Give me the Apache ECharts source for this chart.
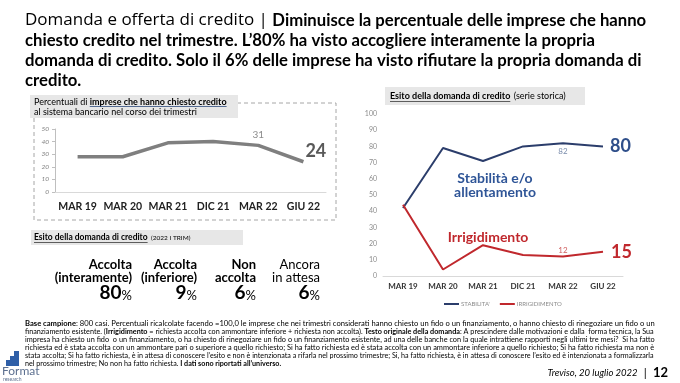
<!DOCTYPE html>
<html><head><meta charset="utf-8">
<script src="https://cdn.jsdelivr.net/npm/echarts@6/dist/echarts.min.js"></script>
<style>html,body{margin:0;padding:0;background:#fff}#c{width:680px;height:383px}</style>
</head><body><div id="c"></div>
<script>
// ---------- DATA ----------
const categories = ['MAR 19', 'MAR 20', 'MAR 21', 'DIC 21', 'MAR 22', 'GIU 22'];
const creditRequested = [28, 28, 39, 40, 37, 24];          // left chart (%)
const creditRequestedLabels = ['', '', '', '', '31', '24'];
const stabilita = [42, 79, 71, 80, 82, 80];               // right chart blue
const stabilitaLabels = ['', '', '', '', '82', '80'];
const irrigidimento = [44, 4, 19, 13, 12, 15];            // right chart red
const irrigidimentoLabels = ['', '', '', '', '12', '15'];
const seriesNames = ["STABILITA'", 'IRRIGIDIMENTO'];
const outcomeNames = [['Accolta', '(interamente)'], ['Accolta', '(inferiore)'], ['Non', 'accolta'], ['Ancora', 'in attesa']];
const outcomeValues = [80, 9, 6, 6];

// ---------- STYLE ----------
const FONT = 'Lato, "Open Sans", sans-serif';
const NAVY = '#2b3d6b';
const BLUE_TXT = '#2f4f8a';
const RED = '#c0282d';
const GREY_LINE = '#7f7f7f';

const cv = document.createElement('canvas').getContext('2d');
function tw(text, font) { cv.font = font; return cv.measureText(text).width; }

const chart = echarts.init(document.getElementById('c'), null, { renderer: 'canvas' });

function labelled(vals, labels, cfg) {
  return vals.map((v, i) => {
    const c = cfg[labels[i]] || null;
    return c ? { value: v, label: Object.assign({ show: true, formatter: labels[i] }, c) } : { value: v };
  });
}

const leftData = labelled(creditRequested, creditRequestedLabels, {
  '31': { position: 'top', distance: 6, fontSize: 10, color: '#8c8c8c', fontFamily: FONT },
  '24': { position: [2, -20], fontSize: 18, fontWeight: 'bold', color: '#595959', fontFamily: FONT }
});
const blueData = labelled(stabilita, stabilitaLabels, {
  '82': { position: 'bottom', distance: 4, fontSize: 8, color: '#7a8cab', fontFamily: FONT },
  '80': { position: 'right', distance: 7, fontSize: 18, fontWeight: 'bold', color: BLUE_TXT, fontFamily: FONT }
});
const redData = labelled(irrigidimento, irrigidimentoLabels, {
  '12': { position: 'top', distance: 2, fontSize: 8, color: '#d06060', fontFamily: FONT },
  '15': { position: 'right', distance: 8, fontSize: 18, fontWeight: 'bold', color: RED, fontFamily: FONT }
});

// ---------- GRAPHICS (text blocks) ----------
const g = [];
// Title
g.push({
  type: 'text', left: 25, top: 12, z: 10,
  style: {
    text: '{a|Domanda e offerta di credito | }{b|Diminuisce la percentuale delle imprese che hanno}\n{b|chiesto credito nel trimestre. L\u201980% ha visto accogliere interamente la propria}\n{b|domanda di credito. Solo il 6% delle imprese ha visto rifiutare la propria domanda di}\n{b|credito.}',
    rich: {
      a: { fontFamily: '"Open Sans", Lato, sans-serif', fontSize: 17, color: '#2f4b7c', lineHeight: 20 },
      b: { fontFamily: FONT, fontSize: 16.7, fontWeight: 'bold', color: '#1a1a1a', lineHeight: 20 }
    }
  }
});
// Left dashed frame
g.push({ type: 'rect', shape: { x: 34, y: 103, width: 302, height: 117 }, style: { fill: 'none', stroke: '#a6a6a6', lineWidth: 1, lineDash: [4, 3] }, z: 1 });
g.push({ type: 'rect', shape: { x: 30, y: 95, width: 208, height: 23 }, style: { fill: '#e7e7e7' }, z: 2 });
const f9 = '9px ' + FONT, f9b = 'bold 9px ' + FONT;
g.push({
  type: 'text', x: 34, y: 97, z: 3,
  style: {
    text: '{n|Percentuali di }{u|imprese che hanno chiesto credito}\n{n|al sistema bancario nel corso dei trimestri}',
    rich: {
      n: { fontFamily: FONT, fontSize: 9, color: '#5b6b85', lineHeight: 10 },
      u: { fontFamily: FONT, fontSize: 9, fontWeight: 'bold', color: '#2f4b7c', lineHeight: 10 }
    }
  }
});
(function () {
  const x0 = 34 + tw('Percentuali di ', f9);
  const w = tw('imprese che hanno chiesto credito', f9b);
  g.push({ type: 'line', shape: { x1: x0, y1: 106.5, x2: x0 + w, y2: 106.5 }, style: { stroke: '#2f4b7c', lineWidth: 0.8 }, z: 3 });
})();
// Right title box
g.push({ type: 'rect', shape: { x: 385, y: 87, width: 200, height: 18 }, style: { fill: '#e7e7e7' }, z: 2 });
g.push({
  type: 'text', x: 390, y: 96, z: 3,
  style: {
    text: '{u|Esito della domanda di credito} {n|(serie storica)}', verticalAlign: 'middle',
    rich: {
      u: { fontFamily: FONT, fontSize: 9, fontWeight: 'bold', color: '#3a3a3a' },
      n: { fontFamily: FONT, fontSize: 9, color: '#7f7f7f' }
    }
  }
});
(function () {
  const w = tw('Esito della domanda di credito', f9b);
  g.push({ type: 'line', shape: { x1: 390, y1: 101.5, x2: 390 + w, y2: 101.5 }, style: { stroke: '#3a3a3a', lineWidth: 0.8 }, z: 3 });
})();
// Second left box
g.push({ type: 'rect', shape: { x: 31, y: 230, width: 212, height: 15 }, style: { fill: '#e7e7e7' }, z: 2 });
g.push({
  type: 'text', x: 34, y: 237.5, z: 3,
  style: {
    text: '{u|Esito della domanda di credito} {n|(2022 I TRIM)}', verticalAlign: 'middle',
    rich: {
      u: { fontFamily: FONT, fontSize: 8.5, fontWeight: 'bold', color: '#3a3a3a' },
      n: { fontFamily: FONT, fontSize: 6.5, color: '#7f7f7f' }
    }
  }
});
(function () {
  const w = tw('Esito della domanda di credito', 'bold 8.5px ' + FONT);
  g.push({ type: 'line', shape: { x1: 34, y1: 242.5, x2: 34 + w, y2: 242.5 }, style: { stroke: '#3a3a3a', lineWidth: 0.8 }, z: 3 });
})();
// Outcome blocks
const outRight = [132, 197, 256, 320];
const outColor = ['#2f4b7c', RED, RED, '#6b6b6b'];
const outWeight = ['bold', 'bold', 'bold', 'normal'];
outcomeNames.forEach((nm, i) => {
  g.push({
    type: 'text', x: outRight[i], y: 258, z: 3,
    style: {
      text: '{t|' + nm[0] + '}\n{t|' + nm[1] + '}\n{v|' + outcomeValues[i] + '}{p|%}', align: 'right',
      rich: {
        t: { fontFamily: FONT, fontSize: 13, fontWeight: outWeight[i], color: outColor[i], lineHeight: 13.5, align: 'right' },
        v: { fontFamily: FONT, fontSize: 19, fontWeight: 'bold', color: outColor[i], lineHeight: 17, verticalAlign: 'bottom' },
        p: { fontFamily: FONT, fontSize: 13, color: outColor[i], lineHeight: 17, verticalAlign: 'bottom' }
      }
    }
  });
});
// In-chart annotations (right)
g.push({ type: 'text', x: 495, y: 185, z: 5, style: { text: 'Stabilità e/o\nallentamento', align: 'center', verticalAlign: 'middle', fontFamily: FONT, fontSize: 14, fontWeight: 'bold', fill: '#2f5597', lineHeight: 14 } });
g.push({ type: 'text', x: 488, y: 237, z: 5, style: { text: 'Irrigidimento', align: 'center', verticalAlign: 'middle', fontFamily: FONT, fontSize: 14, fontWeight: 'bold', fill: RED } });
// Footer note (one text element per line, sized so lines 1-5 span the same width)
const footerLines = [
  '{b|Base campione}{n|: 800 casi. Percentuali ricalcolate facendo =100,0 le imprese che nei trimestri considerati hanno chiesto un fido o un finanziamento, o hanno chiesto di rinegoziare un fido o un}',
  '{n|finanziamento esistente. (}{b|Irrigidimento}{n| = richiesta accolta con ammontare inferiore + richiesta non accolta). }{b|Testo originale della domanda}{n|: A prescindere dalle motivazioni e dalla  forma tecnica, la Sua}',
  '{n|impresa ha chiesto un fido  o un finanziamento, o ha chiesto di rinegoziare un fido o un finanziamento esistente, ad una delle banche con la quale intrattiene rapporti negli ultimi tre mesi?  Si ha fatto}',
  '{n|richiesta ed è stata accolta con un ammontare pari o superiore a quello richiesto; Si ha fatto richiesta ed è stata accolta con un ammontare inferiore a quello richiesto; Si ha fatto richiesta ma non è}',
  '{n|stata accolta; Si ha fatto richiesta, è in attesa di conoscere l\u2019esito e non è intenzionata a rifarla nel prossimo trimestre; Si, ha fatto richiesta, è in attesa di conoscere l\u2019esito ed è intenzionata a formalizzarla}',
  '{n|nel prossimo trimestre; No non ha fatto richiesta. }{b|I dati sono riportati all\u2019universo.}'
];
function richWidth(ln, size) {
  let w = 0;
  ln.replace(/\{([nb])\|([^}]*)\}/g, (m, k, t) => { w += tw(t, (k === 'b' ? 'bold ' : '') + size + 'px ' + FONT); return m; });
  return w;
}
let lastSize = 7;
footerLines.forEach((ln, i) => {
  let size = 10 * 630 / richWidth(ln, 10);
  if (i === footerLines.length - 1) size = lastSize;
  lastSize = size;
  g.push({
    type: 'text', x: 25, y: 324 + i * 8, z: 3,
    style: {
      text: ln, verticalAlign: 'middle',
      rich: {
        n: { fontFamily: FONT, fontSize: size, color: '#222' },
        b: { fontFamily: FONT, fontSize: size, fontWeight: 'bold', color: '#111' }
      }
    }
  });
});
// Logo
g.push({ type: 'polygon', shape: { points: [[6, 366], [6, 360], [10, 360], [10, 356], [14, 356], [14, 351], [19, 351], [19, 366]] }, style: { fill: '#2f5fa8' }, z: 3 });
g.push({ type: 'text', x: 2, y: 371, z: 3, style: { text: 'Format', verticalAlign: 'middle', fontFamily: FONT, fontSize: 12, fill: '#5d7090', letterSpacing: 1 } });
g.push({ type: 'text', x: 3, y: 379.5, z: 3, style: { text: 'research', verticalAlign: 'middle', fontFamily: FONT, fontSize: 5, fill: '#5d7090', letterSpacing: 1.3 } });
// Date & page
g.push({
  type: 'text', x: 668, y: 373, z: 3,
  style: {
    text: '{d|Treviso, 20 luglio 2022}{s|  |  }{p|12}', align: 'right', verticalAlign: 'middle',
    rich: {
      d: { fontFamily: FONT, fontSize: 9.5, fontStyle: 'italic', color: '#2f4b7c' },
      s: { fontFamily: FONT, fontSize: 12, color: '#2f4b7c' },
      p: { fontFamily: FONT, fontSize: 13, fontWeight: 'bold', color: '#2f4b7c' }
    }
  }
});

// ---------- OPTION ----------
const lineCommon = { symbol: 'circle', symbolSize: 0.01, showSymbol: true, showAllSymbol: true, labelLayout: { hideOverlap: false } };
chart.setOption({
  animation: false,
  backgroundColor: '#fff',
  textStyle: { fontFamily: FONT },
  grid: [
    { left: 55, right: 354, top: 129, bottom: 191, containLabel: false },
    { left: 383, right: 57, top: 114, bottom: 107, containLabel: false }
  ],
  legend: {
    data: seriesNames, left: 439, top: 296, itemWidth: 15, itemHeight: 2, itemGap: 10, icon: 'rect',
    textStyle: { fontFamily: FONT, fontSize: 6, color: '#8c8c8c', padding: [0, 0, 0, -3] }
  },
  xAxis: [
    {
      type: 'category', gridIndex: 0, data: categories, boundaryGap: true,
      axisLine: { show: true, lineStyle: { color: '#d9d9d9' } }, axisTick: { show: false },
      axisLabel: { interval: 0, margin: 9, fontSize: 10.5, fontWeight: 'bold', color: '#222', fontFamily: FONT }
    },
    {
      type: 'category', gridIndex: 1, data: categories, boundaryGap: true,
      axisLine: { show: true, lineStyle: { color: '#d9d9d9' } }, axisTick: { show: false },
      axisLabel: { interval: 0, margin: 6, fontSize: 8, fontWeight: 'bold', color: '#333', fontFamily: FONT }
    }
  ],
  yAxis: [
    {
      type: 'value', gridIndex: 0, min: 0, max: 50, interval: 10,
      axisLine: { show: true, lineStyle: { color: '#bfbfbf' } }, axisTick: { show: true, length: 3, lineStyle: { color: '#bfbfbf' } },
      splitLine: { show: false },
      axisLabel: { margin: 6, fontSize: 6.5, color: '#7f7f7f', fontStyle: 'italic', fontFamily: FONT }
    },
    {
      type: 'value', gridIndex: 1, min: 0, max: 100, interval: 10,
      axisLine: { show: false }, axisTick: { show: false }, splitLine: { show: false },
      axisLabel: { margin: 6, fontSize: 7, color: '#8c8c8c', fontFamily: FONT }
    }
  ],
  series: [
    Object.assign({
      type: 'line', name: 'Imprese che hanno chiesto credito', xAxisIndex: 0, yAxisIndex: 0, data: leftData,
      lineStyle: { color: GREY_LINE, width: 3.5 }, itemStyle: { color: GREY_LINE }
    }, lineCommon),
    Object.assign({
      type: 'line', name: seriesNames[0], xAxisIndex: 1, yAxisIndex: 1, data: blueData,
      lineStyle: { color: NAVY, width: 2 }, itemStyle: { color: NAVY }
    }, lineCommon),
    Object.assign({
      type: 'line', name: seriesNames[1], xAxisIndex: 1, yAxisIndex: 1, data: redData,
      lineStyle: { color: RED, width: 2 }, itemStyle: { color: RED }
    }, lineCommon)
  ],
  graphic: g
});
</script>
</body></html>
